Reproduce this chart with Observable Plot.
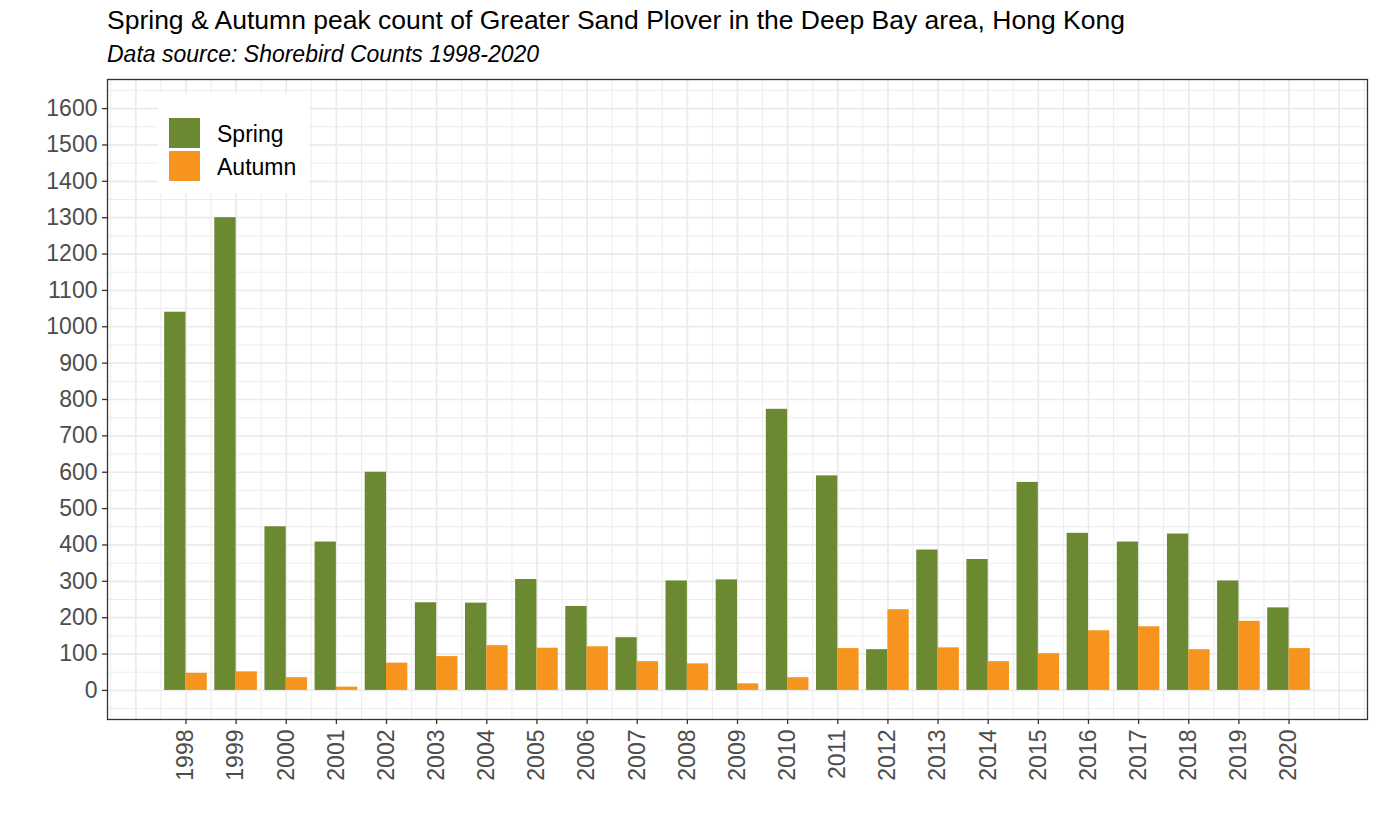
<!DOCTYPE html>
<html>
<head>
<meta charset="utf-8">
<script src="https://cdn.jsdelivr.net/npm/d3@7"></script>
<script src="https://cdn.jsdelivr.net/npm/@observablehq/plot@0.6"></script>
<style>
  html, body { margin: 0; padding: 0; background: #fff; }
  #wrap { position: relative; width: 1378px; height: 827px; font-family: "Liberation Sans", Arial, sans-serif; overflow: hidden; }
  #title { position: absolute; left: 107px; top: 7px; font-size: 26.5px; line-height: 26.5px; color: #000; white-space: nowrap; }
  #subtitle { position: absolute; left: 107px; top: 43.2px; font-size: 23px; line-height: 23px; font-style: italic; color: #000; white-space: nowrap; }
  #chart { position: absolute; left: 0; top: 70px; }
  #legend { position: absolute; left: 158px; top: 93px; width: 151px; height: 100px; background: #fff; }
  .key { position: absolute; left: 11px; width: 31px; height: 30px; }
  .lab { position: absolute; left: 59px; font-size: 23px; line-height: 23px; color: #000; white-space: nowrap; }
</style>
</head>
<body>
<div id="wrap">
  <div id="title"></div>
  <div id="subtitle"></div>
  <div id="chart"></div>
  <div id="legend"></div>
</div>
<script>
const titleText = "Spring & Autumn peak count of Greater Sand Plover in the Deep Bay area, Hong Kong";
const subtitleText = "Data source: Shorebird Counts 1998-2020";

const years = [1998, 1999, 2000, 2001, 2002, 2003, 2004, 2005, 2006, 2007, 2008, 2009,
               2010, 2011, 2012, 2013, 2014, 2015, 2016, 2017, 2018, 2019, 2020];
const spring = [1040, 1300, 450, 408, 600, 241, 240, 305, 231, 145, 301, 304,
                773, 590, 112, 386, 360, 572, 432, 408, 430, 301, 227];
const autumn = [47, 51, 35, 9, 75, 93, 123, 116, 120, 79, 73, 18,
                35, 115, 222, 117, 79, 101, 164, 175, 112, 190, 115];
const seasons = ["Spring", "Autumn"];
const seasonColors = ["#6b8931", "#f7941d"];
const yTicks = [0, 100, 200, 300, 400, 500, 600, 700, 800, 900, 1000, 1100, 1200, 1300, 1400, 1500, 1600];

document.getElementById("title").textContent = titleText;
document.getElementById("subtitle").textContent = subtitleText;

const data = [];
years.forEach((yr, i) => {
  data.push({year: yr, season: seasons[0], value: spring[i], side: -1});
  data.push({year: yr, season: seasons[1], value: autumn[i], side: 1});
});

const halfW = 0.425;
const yMinor = d3.range(-50, 1700, 100);
const xMajor = d3.range(1997, 2022, 1);
const xMinor = d3.range(1996.5, 2022, 1);
const grid = "#ebebeb";
const font = '"Liberation Sans", Arial, sans-serif';

const chart = Plot.plot({
  width: 1378,
  height: 757,
  marginLeft: 107,
  marginRight: 11,
  marginTop: 9,
  marginBottom: 108,
  style: {fontFamily: font, background: "#fff", overflow: "visible"},
  x: {type: "linear", domain: [1996.435, 2021.565], label: null},
  y: {domain: [-80, 1680], label: null},
  color: {domain: seasons, range: seasonColors},
  marks: [
    Plot.gridY(yMinor, {stroke: grid, strokeOpacity: 1, strokeWidth: 0.9}),
    Plot.gridX(xMinor, {stroke: grid, strokeOpacity: 1, strokeWidth: 0.9}),
    Plot.gridY(yTicks, {stroke: grid, strokeOpacity: 1, strokeWidth: 1.7}),
    Plot.gridX(xMajor, {stroke: grid, strokeOpacity: 1, strokeWidth: 1.7}),
    Plot.rectY(data, {
      x1: d => d.side < 0 ? d.year - halfW : d.year,
      x2: d => d.side < 0 ? d.year : d.year + halfW,
      y1: 0,
      y2: "value",
      fill: "season"
    }),
    Plot.frame({stroke: "#333", strokeWidth: 1.3}),
    Plot.axisY(yTicks, {tickSize: 5, tickPadding: 5, fontSize: 23, color: "#4d4d4d", stroke: "#333", strokeWidth: 1.3, tickFormat: d => String(d)}),
    Plot.axisX(years, {tickSize: 5, tickPadding: 5, tickRotate: -90, fontSize: 23, color: "#4d4d4d", stroke: "#333", strokeWidth: 1.3, tickFormat: d => String(d)})
  ]
});
document.getElementById("chart").appendChild(chart);

// legend
const legend = document.getElementById("legend");
seasons.forEach((s, i) => {
  const k = document.createElement("div");
  k.className = "key";
  k.style.top = (25 + i * 33) + "px";
  k.style.background = seasonColors[i];
  legend.appendChild(k);
  const t = document.createElement("div");
  t.className = "lab";
  t.style.top = (25 + i * 33 + 5) + "px";
  t.textContent = s;
  legend.appendChild(t);
});
</script>
</body>
</html>
